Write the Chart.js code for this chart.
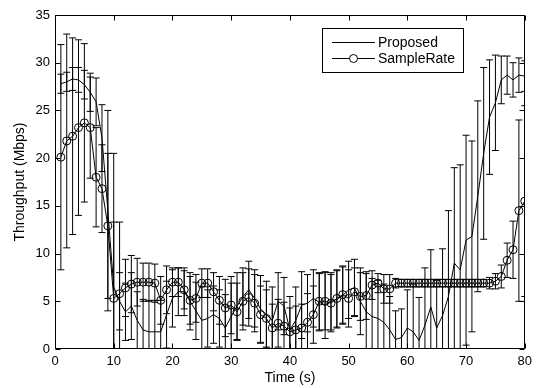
<!DOCTYPE html>
<html>
<head>
<meta charset="utf-8">
<script src="https://cdn.jsdelivr.net/npm/chart.js@4.4.1/dist/chart.umd.min.js"></script>
<style>
  html, body { margin: 0; padding: 0; background: #ffffff; }
  #wrap { width: 537px; height: 388px; }
</style>
</head>
<body>
<div id="wrap"><canvas id="c" width="537" height="388"></canvas></div>
<script>
// ---- data ----
const times = [1,2,3,4,5,6,7,8,9,10,11,12,13,14,15,16,17,18,19,20,
  21,22,23,24,25,26,27,28,29,30,31,32,33,34,35,36,37,38,39,40,
  41,42,43,44,45,46,47,48,49,50,51,52,53,54,55,56,57,58,59,60,
  61,62,63,64,65,66,67,68,69,70,71,72,73,74,75,76,77,78,79,80];

const proposed = [27.8,28.0,28.3,28.2,27.7,26.9,25.9,22.1,14.5,6.5,
  5.0,3.9,4.5,3.0,2.0,1.8,1.8,1.8,3.6,5.3,
  6.0,6.0,5.0,4.0,3.0,3.2,3.6,3.2,2.2,3.4,
  4.5,5.5,6.2,5.3,4.2,3.6,3.0,5.0,4.5,2.0,
  3.0,4.6,4.8,5.3,4.9,4.6,5.0,5.2,5.6,6.2,
  6.4,5.0,3.9,3.4,3.2,2.8,2.0,1.0,1.2,2.2,
  1.8,0.9,2.5,4.4,2.2,3.5,5.5,9.0,8.3,11.4,
  11.8,16.0,20.5,24.3,25.8,28.2,28.7,28.2,28.7,28.6];

const proposedErr = [1.0,1.0,1.2,1.3,1.5,2.0,2.5,3.5,10.5,14.0,
  3.0,3.0,3.5,3.0,3.2,3.3,3.3,3.3,3.5,3.0,
  2.5,2.5,3.0,3.0,3.5,3.0,3.0,3.0,3.5,3.5,
  3.5,3.0,3.0,3.0,3.5,3.5,3.5,3.0,3.0,3.5,
  3.5,3.5,3.0,3.0,3.0,3.5,3.0,3.0,3.0,3.0,
  3.0,3.5,4.0,4.0,4.0,4.0,3.5,3.0,3.0,4.0,
  5.0,4.5,6.0,6.0,5.0,7.0,9.0,10.0,11.0,11.0,
  10.0,10.0,9.0,6.0,5.0,2.5,2.0,1.8,1.8,1.6];

const sampleRate = [20.1,21.8,22.3,23.2,23.7,23.2,18.0,16.8,12.9,5.3,
  5.8,6.4,6.8,7.0,7.0,7.0,6.9,5.1,6.2,7.0,
  7.0,6.2,5.1,5.3,6.9,6.9,6.0,5.1,4.3,4.6,
  3.9,5.0,5.4,4.8,3.6,3.2,2.2,2.7,2.4,1.8,
  2.0,2.2,2.8,3.6,5.0,5.0,4.8,5.3,5.7,5.3,
  6.0,5.5,5.6,6.7,6.9,6.3,6.3,6.9,6.9,6.9,
  6.9,6.9,6.9,6.9,6.9,6.9,6.9,6.9,6.9,6.9,
  6.9,6.9,6.9,6.9,7.1,7.6,9.3,10.4,14.5,15.5];

const sampleRateErr = [11.8,11.2,10.3,9.2,8.3,5.3,5.2,4.6,7.6,8.0,
  7.5,3.0,3.0,2.5,2.0,2.0,2.0,2.5,2.5,1.5,
  1.5,2.0,2.5,2.5,1.5,1.5,2.0,2.5,3.0,3.0,
  3.0,3.0,3.0,3.0,3.0,3.0,2.5,2.5,2.5,2.5,
  2.5,2.5,3.0,3.0,3.0,3.0,3.0,3.0,3.0,3.0,
  2.5,2.5,2.5,1.5,1.0,1.5,1.5,0.5,0.4,0.4,
  0.4,0.4,0.4,0.4,0.4,0.4,0.4,0.4,0.4,0.4,
  0.4,0.4,0.4,0.6,0.8,1.2,1.8,3.0,9.5,10.0];

const xTicks = [0,10,20,30,40,50,60,70,80];
const yTicks = [0,5,10,15,20,25,30,35];
const seriesNames = ['Proposed','SampleRate'];
const xTitle = 'Time (s)';
const yTitle = 'Throughput (Mbps)';

// ---- build chart ----
const FONT = 'Liberation Sans, Arial, Helvetica, sans-serif';
const toPts = (xs, ys) => xs.map((t, i) => ({ x: t, y: ys[i] }));

const errorBarPlugin = {
  id: 'errorBars',
  beforeDatasetsDraw(chart, args, opts) {
    const { ctx, chartArea: a, scales: { x, y } } = chart;
    ctx.save();
    ctx.beginPath();
    ctx.rect(a.left, a.top, a.right - a.left, a.bottom - a.top);
    ctx.clip();
    ctx.strokeStyle = '#000';
    ctx.lineWidth = 1;
    const cap = opts.cap;
    chart.data.datasets.forEach(ds => {
      if (!ds.errors) return;
      ds.data.forEach((p, i) => {
        const e = ds.errors[i];
        const px = x.getPixelForValue(p.x);
        const lo = y.getPixelForValue(p.y - e);
        const hi = y.getPixelForValue(p.y + e);
        ctx.beginPath();
        ctx.moveTo(px, lo); ctx.lineTo(px, hi);
        ctx.moveTo(px - cap, lo); ctx.lineTo(px + cap, lo);
        ctx.moveTo(px - cap, hi); ctx.lineTo(px + cap, hi);
        ctx.stroke();
      });
    });
    ctx.restore();
  }
};

const framePlugin = {
  id: 'frame',
  afterDraw(chart, args, opts) {
    const { ctx, chartArea: a, scales: { x, y } } = chart;
    const L = Math.round(a.left) + 0.5, R = Math.round(a.right) - 0.5;
    const T = Math.round(a.top) + 0.5, B = Math.round(a.bottom) - 0.5;
    ctx.save();
    ctx.strokeStyle = '#000';
    ctx.lineWidth = 1;
    ctx.beginPath();
    ctx.rect(L, T, R - L, B - T);
    const tl = opts.tickLen;
    x.ticks.forEach(t => {
      const px = Math.round(x.getPixelForValue(t.value)) + 0.5;
      ctx.moveTo(px, B); ctx.lineTo(px, B - tl);
      ctx.moveTo(px, T); ctx.lineTo(px, T + tl);
    });
    y.ticks.forEach(t => {
      const py = Math.round(y.getPixelForValue(t.value)) + 0.5;
      ctx.moveTo(L, py); ctx.lineTo(L + tl, py);
      ctx.moveTo(R, py); ctx.lineTo(R - tl, py);
    });
    ctx.stroke();

    // legend box
    const lg = opts.legend;
    ctx.fillStyle = '#fff';
    ctx.fillRect(lg.x, lg.y, lg.w, lg.h);
    ctx.strokeRect(lg.x + 0.5, lg.y + 0.5, lg.w - 1, lg.h - 1);
    ctx.font = lg.fontSize + 'px ' + FONT;
    ctx.fillStyle = '#000';
    ctx.textBaseline = 'middle';
    ctx.textAlign = 'left';
    chart.data.datasets.forEach((ds, i) => {
      const yy = Math.round(lg.y + lg.row0 + i * lg.rowGap) + 0.5;
      ctx.beginPath();
      ctx.moveTo(lg.x + lg.lineX0, yy);
      ctx.lineTo(lg.x + lg.lineX1, yy);
      ctx.stroke();
      if (ds.pointRadius > 0) {
        const cx = lg.x + (lg.lineX0 + lg.lineX1) / 2;
        ctx.beginPath();
        ctx.arc(cx, yy, ds.pointRadius, 0, Math.PI * 2);
        ctx.fillStyle = '#fff';
        ctx.fill();
        ctx.stroke();
        ctx.fillStyle = '#000';
      }
      ctx.fillText(ds.label, lg.x + lg.textX, yy + 1);
    });
    ctx.restore();
  }
};

new Chart(document.getElementById('c'), {
  type: 'line',
  data: {
    datasets: [
      {
        label: seriesNames[0],
        data: toPts(times, proposed),
        errors: proposedErr,
        borderColor: '#000',
        borderWidth: 1,
        pointRadius: 0,
        tension: 0,
        fill: false
      },
      {
        label: seriesNames[1],
        data: toPts(times, sampleRate),
        errors: sampleRateErr,
        borderColor: '#000',
        borderWidth: 1,
        pointRadius: 4,
        pointStyle: 'circle',
        pointBorderColor: '#000',
        pointBorderWidth: 1,
        pointBackgroundColor: 'rgba(0,0,0,0)',
        tension: 0,
        fill: false
      }
    ]
  },
  options: {
    responsive: false,
    devicePixelRatio: 1,
    animation: false,
    events: [],
    layout: { padding: { top: 15, right: 7, left: 0, bottom: 0 } },
    plugins: {
      legend: { display: false },
      tooltip: { enabled: false },
      errorBars: { cap: 3.5 },
      frame: {
        tickLen: 5,
        legend: { x: 322, y: 28, w: 142, h: 45, row0: 13.5, rowGap: 16.3, lineX0: 10, lineX1: 53, textX: 56, fontSize: 14 }
      }
    },
    scales: {
      x: {
        type: 'linear',
        min: 0, max: 80,
        afterFit: s => { s.height = 39; },
        afterBuildTicks: s => { s.ticks = xTicks.map(v => ({ value: v })); },
        grid: { display: false, drawTicks: false },
        border: { display: false },
        ticks: { color: '#000', font: { family: FONT, size: 13 }, padding: 5, maxRotation: 0 },
        title: { display: true, text: xTitle, color: '#000', font: { family: FONT, size: 14 }, padding: { top: 0, bottom: 1 } }
      },
      y: {
        type: 'linear',
        min: 0, max: 35,
        afterFit: s => { s.width = 55; },
        afterBuildTicks: s => { s.ticks = yTicks.map(v => ({ value: v })); },
        grid: { display: false, drawTicks: false },
        border: { display: false },
        ticks: { color: '#000', font: { family: FONT, size: 13 }, padding: 5 },
        title: { display: true, text: yTitle, color: '#000', font: { family: FONT, size: 14 }, padding: { top: 12, bottom: 0 } }
      }
    }
  },
  plugins: [errorBarPlugin, framePlugin]
});
</script>
</body>
</html>
